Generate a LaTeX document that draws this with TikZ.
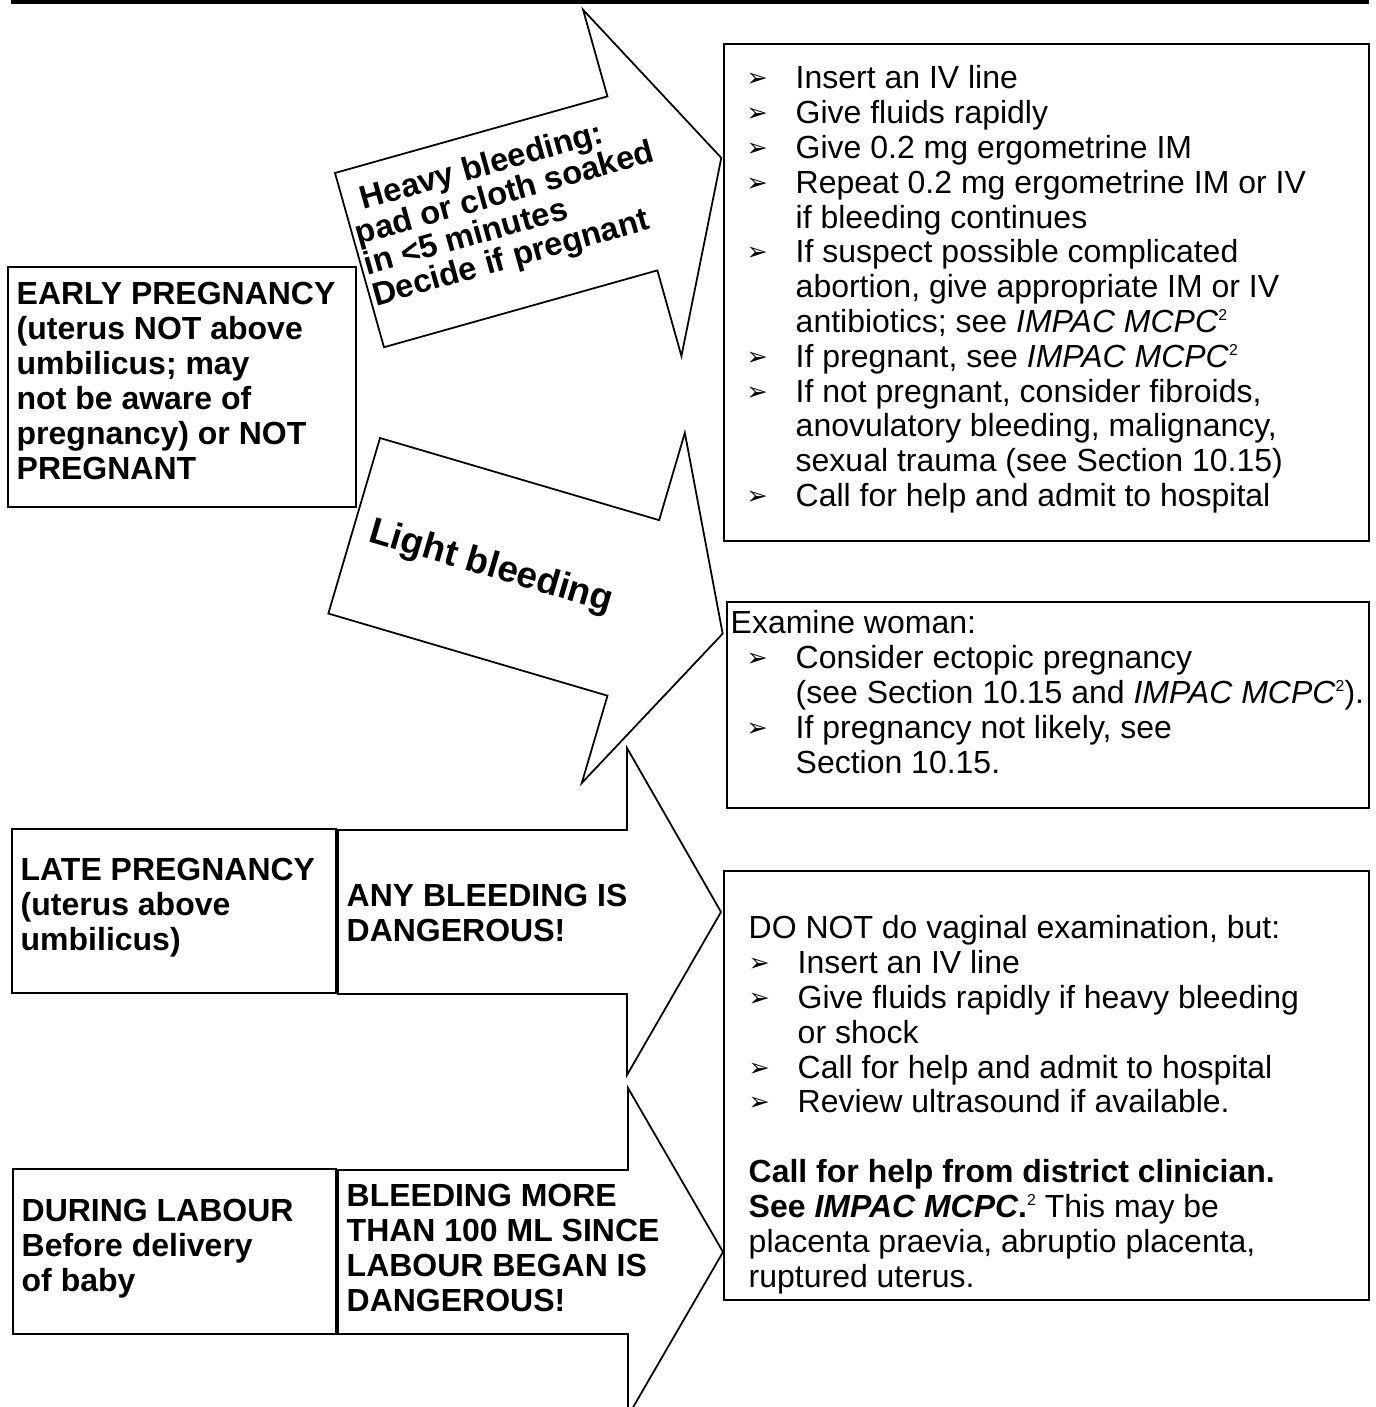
\documentclass[tikz,border=0pt]{standalone}
\usepackage{fontspec}
\setmainfont{Liberation Sans}
\newfontfamily\dejavu{DejaVu Sans}
\usetikzlibrary{positioning}

\newcommand\bul{\makebox[0.49cm][l]{\raisebox{0.02cm}{\dejavu\fontsize{7.2}{7.2}\selectfont ➢}}}
\newcommand\ind{\hspace*{0.49cm}}
\newcommand\fnote{\raisebox{0.12cm}{\fontsize{4.5}{5}\selectfont 2}}

\tikzset{
  box/.style={draw, line width=0.6pt, inner sep=0pt, outer sep=0pt, anchor=north west},
  blockarrow/.style={draw, line width=0.5pt, fill=white, line join=miter},
  boldtxt/.style={font=\fontsize{9.1}{9.96}\selectfont\bfseries, align=left, inner sep=0pt, anchor=north west},
  plaintxt/.style={font=\fontsize{9.1}{9.9}\selectfont, align=left, inner sep=0pt, anchor=north west},
  arrowtxt/.style={font=\fontsize{9.3}{9.1}\selectfont\bfseries, align=left, inner sep=0pt},
  lighttxt/.style={font=\fontsize{10.5}{11}\selectfont\bfseries, inner sep=0pt}
}

\begin{document}
\begin{tikzpicture}[x=1cm,y=-1cm]
\useasboundingbox (0,0) rectangle (13.75,14.07);
\fill[white] (0,0) rectangle (13.75,14.07);
\fill[black] (0.11,0) rectangle (13.69,0.04);

% block arrows
\begin{scope}[shift={(3.35,1.73)},rotate=15.7]
  \draw[blockarrow] (0,0) -- (2.83,0) -- (2.83,-0.9) -- (3.76,0.9) -- (2.84,2.7) -- (2.84,1.81) -- (0,1.81) -- cycle;
  \node[arrowtxt, anchor=north west, transform shape] (heavytxt) at (0.03,0.19)
    {\hspace*{0.14cm}Heavy bleeding:\\pad or cloth soaked\\in <5 minutes\\Decide if pregnant};
\end{scope}
\begin{scope}[shift={(3.80,4.38)},rotate=-16.4]
  \draw[blockarrow] (0,0) -- (2.91,0) -- (2.91,-0.91) -- (3.84,0.91) -- (2.91,2.74) -- (2.91,1.83) -- (0,1.83) -- cycle;
  \node[lighttxt, transform shape] (lighttxt) at (1.43,0.93) {Light bleeding};
\end{scope}
\draw[blockarrow] (3.38,8.30) -- (6.27,8.30) -- (6.27,7.48) -- (7.21,9.12) -- (6.27,10.75) -- (6.27,9.94) -- (3.38,9.94) -- cycle;
\draw[blockarrow] (3.38,11.70) -- (6.28,11.70) -- (6.28,10.88) -- (7.23,12.52) -- (6.28,14.16) -- (6.28,13.34) -- (3.38,13.34) -- cycle;
\node[boldtxt] (anytxt) at (3.46,8.83) {ANY BLEEDING IS\\DANGEROUS!};
\node[boldtxt] (labourtxt) at (3.46,11.83) {BLEEDING MORE\\THAN 100 ML SINCE\\LABOUR BEGAN IS\\DANGEROUS!};

% left boxes
\node[box, minimum width=3.48cm, minimum height=2.40cm] (early) at (0.08,2.67) {};
\node[boldtxt] (earlytxt) at (0.16,2.815)
  {EARLY PREGNANCY\\(uterus NOT above\\umbilicus; may\\not be aware of\\pregnancy) or NOT\\PREGNANT};
\node[box, minimum width=3.24cm, minimum height=1.64cm] (late) at (0.12,8.29) {};
\node[boldtxt] (latetxt) at (0.20,8.57) {LATE PREGNANCY\\(uterus above\\umbilicus)};
\node[box, minimum width=3.23cm, minimum height=1.65cm] (during) at (0.13,11.69) {};
\node[boldtxt] (duringtxt) at (0.21,11.98) {DURING LABOUR\\Before delivery\\of baby};

% right boxes
\node[box, minimum width=6.45cm, minimum height=4.97cm] (heavy) at (7.24,0.44) {};
\node[plaintxt] (heavylist) at (7.46,0.65)
  {\bul Insert an IV line\\
   \bul Give fluids rapidly\\
   \bul Give 0.2 mg ergometrine IM\\
   \bul Repeat 0.2 mg ergometrine IM or IV\\
   \ind if bleeding continues\\
   \bul If suspect possible complicated\\
   \ind abortion, give appropriate IM or IV\\
   \ind antibiotics; see \textit{IMPAC MCPC}\fnote\\
   \bul If pregnant, see \textit{IMPAC MCPC}\fnote\\
   \bul If not pregnant, consider fibroids,\\
   \ind anovulatory bleeding, malignancy,\\
   \ind sexual trauma (see Section 10.15)\\
   \bul Call for help and admit to hospital};
\node[box, minimum width=6.42cm, minimum height=2.06cm] (light) at (7.27,6.02) {};
\node[plaintxt] (lightlist) at (7.30,6.10)
  {Examine woman:\\
   \hspace*{0.16cm}\bul Consider ectopic pregnancy\\
   \hspace*{0.16cm}\ind (see Section 10.15 and \textit{IMPAC MCPC}\fnote).\\
   \hspace*{0.16cm}\bul If pregnancy not likely, see\\
   \hspace*{0.16cm}\ind Section 10.15.};
\node[box, minimum width=6.45cm, minimum height=4.29cm] (danger) at (7.24,8.71) {};
\node[plaintxt] (dangerlist) at (7.48,9.15)
  {DO NOT do vaginal examination, but:\\
   \bul Insert an IV line\\
   \bul Give fluids rapidly if heavy bleeding\\
   \ind or shock\\
   \bul Call for help and admit to hospital\\
   \bul Review ultrasound if available.\\[0.35cm]
   \textbf{Call for help from district clinician.}\\
   \textbf{See \textit{IMPAC MCPC}.}\fnote\ This may be\\
   placenta praevia, abruptio placenta,\\
   ruptured uterus.};
\end{tikzpicture}
\end{document}
